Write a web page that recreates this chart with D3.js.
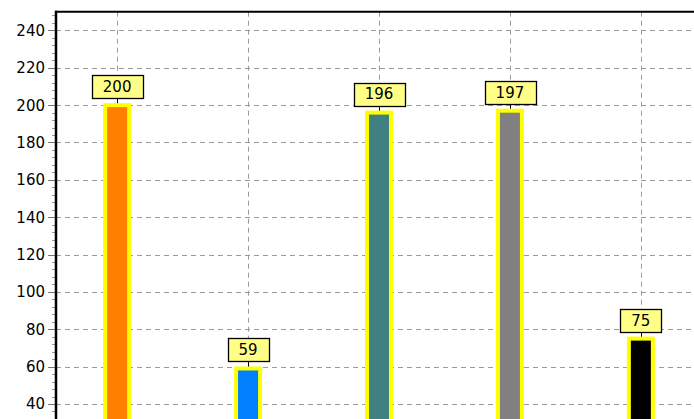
<!DOCTYPE html>
<html>
<head>
<meta charset="utf-8">
<script src="https://cdn.jsdelivr.net/npm/d3@7"></script>
<style>
  html, body { margin: 0; padding: 0; background: #fff; overflow: hidden; }
  svg { display: block; }
  .tick-label { font-family: "DejaVu Sans", Verdana, sans-serif; font-size: 15px; fill: #000; }
  .val-label { font-family: "DejaVu Sans", Verdana, sans-serif; font-size: 15px; fill: #000; }
</style>
</head>
<body>
<div id="chart"></div>
<script>
// DATA
const categories = ['Item 1', 'Item 2', 'Item 3', 'Item 4', 'Item 5'];
const values = [200, 59, 196, 197, 75];
const barColors = ['#ff8000', '#0080ff', '#408080', '#808080', '#000000'];
const yTicks = [40, 60, 80, 100, 120, 140, 160, 180, 200, 220, 240];

// SETUP
const W = 694, H = 419;
const mLeft = 56, mTop = 11.7;
const zeroY = 478.7; // plot continues below the window
const rightEdge = 702;

const svg = d3.select('#chart').append('svg').attr('width', W).attr('height', H);

const y = d3.scaleLinear().domain([0, 250]).range([zeroY, mTop]);
const x = d3.scalePoint().domain(categories).range([mLeft, rightEdge]).padding(0.467);

// grid
const grid = svg.append('g').attr('class', 'grid');
grid.selectAll('.hgrid')
    .data(yTicks)
    .enter()
    .append('line')
    .attr('x1', mLeft).attr('x2', W)
    .attr('y1', d => Math.round(y(d)) + 0.5)
    .attr('y2', d => Math.round(y(d)) + 0.5)
    .attr('stroke', '#9a9a9a')
    .attr('stroke-dasharray', '5,4');

grid.selectAll('.vgrid')
    .data(categories)
    .enter()
    .append('line')
    .attr('x1', d => Math.round(x(d)) + 0.5)
    .attr('x2', d => Math.round(x(d)) + 0.5)
    .attr('y1', mTop).attr('y2', H)
    .attr('stroke', '#9a9a9a')
    .attr('stroke-dasharray', '5,4');

// bars
const bw = 24;
svg.append('g').selectAll('.bar')
   .data(values)
   .enter()
   .append('rect')
   .attr('x', (d, i) => x(categories[i]) - bw / 2)
   .attr('y', d => y(d))
   .attr('width', bw)
   .attr('height', d => zeroY - y(d))
   .style('fill', (d, i) => barColors[i])
   .attr('stroke', '#ffff00')
   .attr('stroke-width', 4);

// value labels with boxes
const labels = svg.append('g');
values.forEach(function(v, i) {
  const cx = x(categories[i]);
  const barTop = y(v);
  const boxH = 23, gap = 7, pad = 11;
  const g = labels.append('g');
  const txt = g.append('text')
    .attr('class', 'val-label')
    .attr('text-anchor', 'middle')
    .attr('x', cx)
    .attr('y', barTop - gap - boxH / 2)
    .attr('dy', '0.36em')
    .text(v);
  const tw = txt.node().getComputedTextLength();
  const bx = Math.round(cx - tw / 2 - pad) + 0.5;
  const by = Math.round(barTop - gap - boxH) + 0.5;
  g.insert('rect', 'text')
    .attr('x', bx).attr('y', by)
    .attr('width', Math.round(tw + 2 * pad)).attr('height', boxH)
    .attr('fill', '#ffff88')
    .attr('stroke', '#000')
    .attr('stroke-width', 1.3);
  g.append('line')
    .attr('x1', Math.round(cx) + 0.5).attr('x2', Math.round(cx) + 0.5)
    .attr('y1', by + boxH).attr('y2', barTop - 2)
    .attr('stroke', '#000');
});

// y axis
const axis = svg.append('g');
const minor = d3.range(0, 250, 4).filter(d => d % 20 !== 0);
axis.selectAll('.minor')
    .data(minor)
    .enter()
    .append('line')
    .attr('x1', mLeft - 4).attr('x2', mLeft)
    .attr('y1', d => Math.round(y(d)) + 0.5)
    .attr('y2', d => Math.round(y(d)) + 0.5)
    .attr('stroke', '#999');
axis.selectAll('.major')
    .data(yTicks)
    .enter()
    .append('line')
    .attr('x1', mLeft - 8).attr('x2', mLeft)
    .attr('y1', d => Math.round(y(d)) + 0.5)
    .attr('y2', d => Math.round(y(d)) + 0.5)
    .attr('stroke', '#777');
axis.selectAll('.tick-label')
    .data(yTicks)
    .enter()
    .append('text')
    .attr('class', 'tick-label')
    .attr('text-anchor', 'end')
    .attr('x', 45)
    .attr('y', d => y(d))
    .attr('dy', '0.36em')
    .text(d => d);

// axis line & top border
axis.append('line')
    .attr('x1', mLeft).attr('x2', mLeft)
    .attr('y1', mTop - 1).attr('y2', H)
    .attr('stroke', '#000').attr('stroke-width', 2.5);
axis.append('line')
    .attr('x1', mLeft - 1).attr('x2', W)
    .attr('y1', mTop).attr('y2', mTop)
    .attr('stroke', '#000').attr('stroke-width', 2);
</script>
</body>
</html>
